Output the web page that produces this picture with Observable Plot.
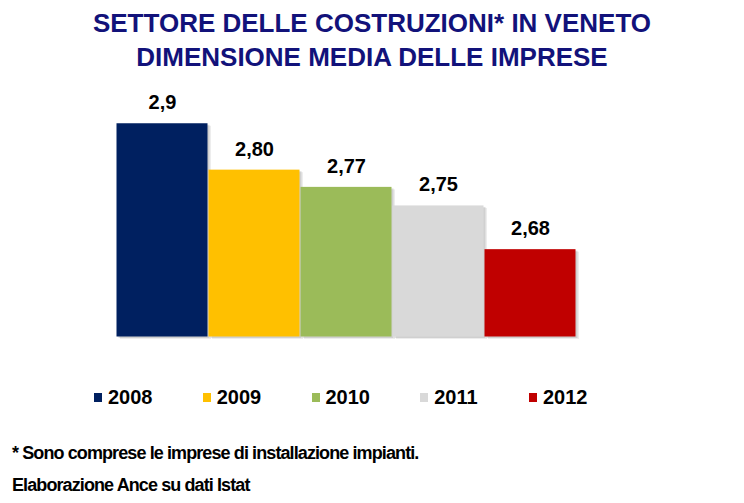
<!DOCTYPE html>
<html>
<head>
<meta charset="utf-8">
<script src="https://cdn.jsdelivr.net/npm/d3@7"></script>
<script src="https://cdn.jsdelivr.net/npm/@observablehq/plot@0.6"></script>
<style>
  html, body { margin: 0; padding: 0; background: #fff; }
  #wrap { position: relative; width: 744px; height: 503px; overflow: hidden; background: #fff;
          font-family: "Liberation Sans", Arial, sans-serif; }
  #chart { position: absolute; left: 0; top: 0; }
  .title { position: absolute; left: 0; width: 744px; text-align: center; font-size: 26px; font-weight: bold;
           color: #12127a; line-height: 34px; top: 6px; white-space: nowrap; }
  #legend { position: absolute; left: 94px; top: 387px; display: flex; }
  .item { width: 108.75px; display: flex; align-items: center; font-size: 20px; font-weight: bold;
          line-height: 20px; color: #000; }
  .sw { width: 8px; height: 9px; margin-right: 6px; }
  .note { position: absolute; left: 12px; font-size: 18px; font-weight: bold; letter-spacing: -0.9px;
          line-height: 32px; color: #000; white-space: nowrap; }
</style>
</head>
<body>
<div id="wrap">
  <div id="chart"></div>
  <div class="title" id="title"></div>
  <div id="legend"></div>
  <div class="note" id="notes" style="top:437px"></div>
</div>
<script>
const titleLines = ["SETTORE DELLE COSTRUZIONI* IN VENETO", "DIMENSIONE MEDIA DELLE IMPRESE"];
const years = ["2008", "2009", "2010", "2011", "2012"];
const values = [2.87, 2.80, 2.774, 2.746, 2.68];
const labels = ["2,9", "2,80", "2,77", "2,75", "2,68"];
const colors = ["#002060", "#FFC000", "#9BBB59", "#D9D9D9", "#C00000"];
const notes = ["* Sono comprese le imprese di installazione impianti.", "Elaborazione Ance su dati Istat"];

const data = years.map((y, i) => ({year: y, value: values[i], label: labels[i]}));

document.getElementById("title").innerHTML = titleLines.join("<br>");
document.getElementById("notes").innerHTML = notes.join("<br>");

const legend = document.getElementById("legend");
years.forEach((y, i) => {
  const it = document.createElement("div");
  it.className = "item";
  const sw = document.createElement("span");
  sw.className = "sw";
  sw.style.background = colors[i];
  it.appendChild(sw);
  it.appendChild(document.createTextNode(y));
  legend.appendChild(it);
});

const yMin = 2.5467;
const chart = Plot.plot({
  width: 744,
  height: 503,
  marginLeft: 115,
  marginRight: 167,
  marginTop: 36,
  marginBottom: 166,
  style: {background: "transparent", fontFamily: "'Liberation Sans', Arial, sans-serif"},
  x: {domain: years, range: [115, 577], padding: 0, axis: null},
  y: {domain: [yMin, 3.0], range: [337, 36.6], axis: null},
  color: {domain: years, range: colors},
  marks: [
    Plot.rectY(data, {x: "year", y1: yMin, y2: "value", fill: "#000", fillOpacity: 0.07, dx: 3.5, dy: 2.5, inset: 0.5}),
    Plot.rectY(data, {x: "year", y1: yMin, y2: "value", fill: "#000", fillOpacity: 0.12, dx: 2, dy: 1.5, inset: 0.5}),
    Plot.barY(data, {x: "year", y1: yMin, y2: "value", fill: "year", inset: 0.5}),
    Plot.text(data, {x: "year", y: "value", text: "label", lineAnchor: "bottom", dy: -14,
                     fontSize: 20, fontWeight: "bold", fill: "#000"})
  ]
});
document.getElementById("chart").appendChild(chart);
</script>
</body>
</html>
